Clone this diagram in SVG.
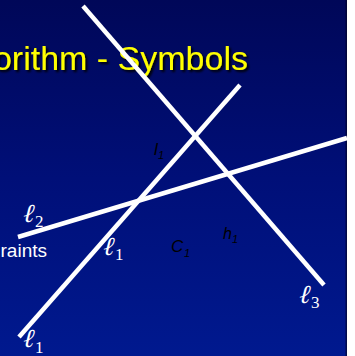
<svg xmlns="http://www.w3.org/2000/svg" width="355" height="356" viewBox="0 0 355 356">
<defs>
<linearGradient id="bg" x1="0" y1="0" x2="0" y2="1">
<stop offset="0" stop-color="#000758"/>
<stop offset="0.5" stop-color="#000f78"/>
<stop offset="1" stop-color="#00198f"/>
</linearGradient>
<filter id="shadow" x="-10%" y="-30%" width="120%" height="160%"><feDropShadow dx="2" dy="2" stdDeviation="1.2" flood-color="#000000" flood-opacity="0.95"/></filter>
</defs>
<style>
.line{stroke:#ffffff;stroke-width:4.5;fill:none}
.ell{font-family:"Liberation Serif","DejaVu Serif",serif;fill:#ffffff;font-size:26px}
.sub{font-family:"Liberation Serif","DejaVu Serif",serif;fill:#ffffff;font-size:17px}
.lab{font-family:"Liberation Sans",Arial,sans-serif;font-style:italic;fill:#000000}
.title{font-family:"Liberation Sans",Arial,sans-serif;font-size:34px;fill:#ffff00}
</style>
<rect width="355" height="356" fill="#ffffff"/>
<rect x="0" y="0" width="347" height="356" fill="url(#bg)"/>
<rect x="345.5" y="0" width="1.5" height="356" fill="#000020" opacity="0.6"/>
<g id="title">
<text class="title" x="248" y="70" text-anchor="end" filter="url(#shadow)">orithm - Symbols</text>
</g>
<g id="constraints">
<text x="47" y="257" text-anchor="end" font-family="Liberation Sans,Arial,sans-serif" font-size="19" fill="#ffffff">raints</text>
</g>
<g id="connectors">
<line id="line3" class="line" x1="83" y1="6" x2="324" y2="285"/>
<line id="line1" class="line" x1="19" y1="337" x2="240" y2="85"/>
<line id="line2" class="line" x1="18" y1="237" x2="347" y2="138"/>
</g>
<g id="label-l2"><text class="ell" transform="translate(21,222) skewX(-14)">ℓ</text><text class="sub" x="35" y="227">2</text></g>
<g id="label-l1-mid"><text class="ell" transform="translate(101,255) skewX(-14)">ℓ</text><text class="sub" x="115" y="260">1</text></g>
<g id="label-l3"><text class="ell" transform="translate(297,303) skewX(-14)">ℓ</text><text class="sub" x="311" y="308">3</text></g>
<g id="label-l1-bottom"><text class="ell" transform="translate(21,347) skewX(-14)">ℓ</text><text class="sub" x="35" y="353">1</text></g>
<g id="label-I1"><text class="lab" x="154" y="155" font-size="17">l</text><text class="lab" x="158" y="159" font-size="11">1</text></g>
<g id="label-C1"><text class="lab" x="171" y="252" font-size="17">C</text><text class="lab" x="184" y="257" font-size="11">1</text></g>
<g id="label-h1"><text class="lab" x="223" y="239" font-size="16">h</text><text class="lab" x="232" y="243" font-size="11">1</text></g>
</svg>
